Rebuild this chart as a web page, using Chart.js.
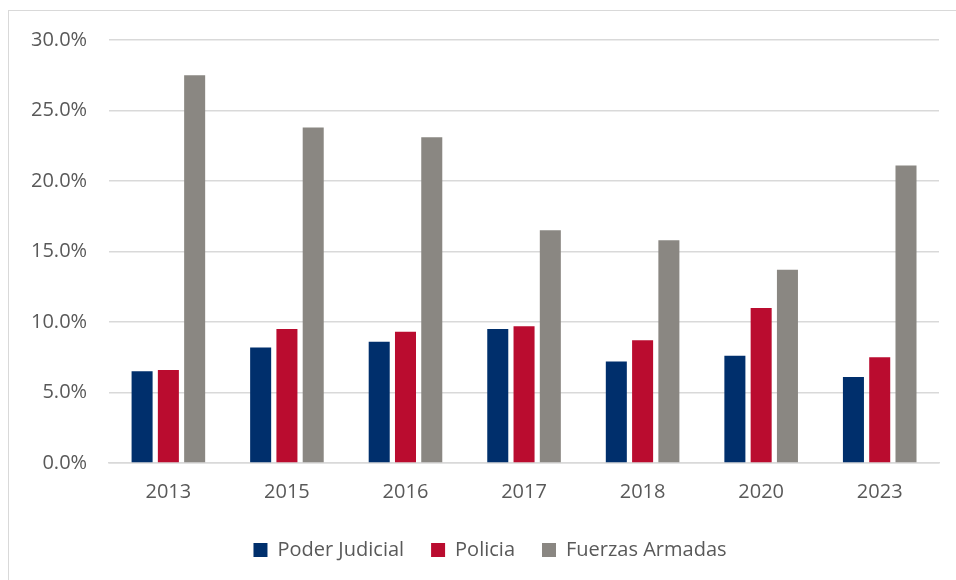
<!DOCTYPE html>
<html>
<head>
<meta charset="utf-8">
<script src="https://cdn.jsdelivr.net/npm/chart.js@4"></script>
<style>
  html,body{margin:0;padding:0;background:#fff;overflow:hidden;width:956px;height:580px;}
  #frame{position:absolute;left:8px;top:10px;width:1000px;height:700px;border:1.5px solid #d9d9d9;box-sizing:border-box;}
  #wrap{position:absolute;left:0;top:0;width:956px;height:580px;}
</style>
</head>
<body>
<div id="frame"></div>
<div id="wrap"><canvas id="c" width="956" height="580"></canvas></div>
<script>
const categories = ["2013","2015","2016","2017","2018","2020","2023"];
const poderJudicial = [6.5, 8.2, 8.6, 9.5, 7.2, 7.6, 6.1];
const policia = [6.6, 9.5, 9.3, 9.7, 8.7, 11.0, 7.5];
const fuerzasArmadas = [27.5, 23.8, 23.1, 16.5, 15.8, 13.7, 21.1];
const seriesNames = ["Poder Judicial","Policia","Fuerzas Armadas"];
const seriesColors = ["#002F6C","#BA0C2F","#8A8782"];

const FONT = "'Open Sans', 'Liberation Sans', sans-serif";
const legendShift = {
  id: 'legendShift',
  afterLayout(chart) {
    const lg = chart.legend;
    if (lg) { lg.left += 16; lg.right += 16; }
  }
};
new Chart(document.getElementById('c'), {
  type: 'bar',
  data: {
    labels: categories,
    datasets: [poderJudicial, policia, fuerzasArmadas].map((d, i) => ({
      label: seriesNames[i],
      data: d,
      backgroundColor: seriesColors[i],
      borderWidth: 0,
      barPercentage: 0.8,
      categoryPercentage: 0.665
    }))
  },
  plugins: [legendShift],
  options: {
    responsive: false,
    animation: false,
    layout: { padding: { left: 9, right: 17, top: 40, bottom: 10 } },
    plugins: {
      tooltip: { enabled: false },
      legend: {
        position: 'bottom',
        labels: {
          boxWidth: 14, boxHeight: 14, padding: 27,
          color: '#595959',
          font: { family: FONT, size: 20 }
        }
      }
    },
    scales: {
      x: {
        grid: { display: false },
        border: { display: true, color: '#d9d9d9', width: 1.5 },
        ticks: { color: '#595959', font: { family: FONT, size: 20 }, padding: 9 }
      },
      y: {
        min: 0, max: 30,
        grid: { color: '#d9d9d9', lineWidth: 1.5, drawTicks: false },
        border: { display: false },
        ticks: {
          stepSize: 5,
          color: '#595959',
          font: { family: FONT, size: 20 },
          padding: 22,
          callback: v => v.toFixed(1) + '%'
        }
      }
    }
  }
});
</script>
</body>
</html>
